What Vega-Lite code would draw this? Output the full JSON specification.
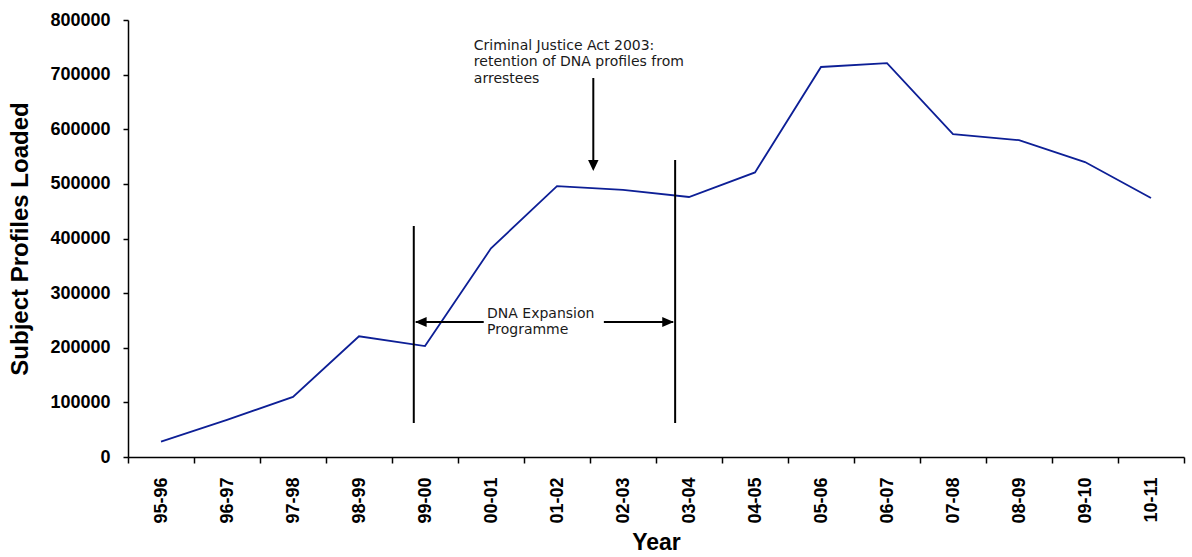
{
  "$schema": "https://vega.github.io/schema/vega-lite/v6.json",
  "width": 1056,
  "height": 437,
  "autosize": {"type": "none"},
  "padding": {"left": 128, "top": 20, "right": 8, "bottom": 100},
  "background": "white",
  "config": {"view": {"stroke": null}},
  "datasets": {
    "profiles": [
      {"year": "95-96", "profiles": 28000},
      {"year": "96-97", "profiles": 68000},
      {"year": "97-98", "profiles": 110000},
      {"year": "98-99", "profiles": 221000},
      {"year": "99-00", "profiles": 203000},
      {"year": "00-01", "profiles": 382000},
      {"year": "01-02", "profiles": 496000},
      {"year": "02-03", "profiles": 489000},
      {"year": "03-04", "profiles": 476000},
      {"year": "04-05", "profiles": 521000},
      {"year": "05-06", "profiles": 714000},
      {"year": "06-07", "profiles": 721000},
      {"year": "07-08", "profiles": 591000},
      {"year": "08-09", "profiles": 580000},
      {"year": "09-10", "profiles": 540000},
      {"year": "10-11", "profiles": 474000}
    ],
    "vlines": [
      {"at": 1999.33, "top": 422900, "bottom": 62200},
      {"at": 2003.29, "top": 543700, "bottom": 62200},
      {"at": 2002.05, "top": 693800, "bottom": 530000}
    ],
    "hlines": [
      {"from": 1999.36, "to": 2000.39, "level": 247100},
      {"from": 2002.21, "to": 2003.26, "level": 247100}
    ],
    "heads": [
      {"at": 2002.05, "level": 523600, "dir": "down"},
      {"at": 1999.35, "level": 247100, "dir": "left"},
      {"at": 2003.27, "level": 247100, "dir": "right"}
    ],
    "notes": [
      {"at": 2000.24, "level": 752400, "note": "Criminal Justice Act 2003:"},
      {"at": 2000.24, "level": 723100, "note": "retention of DNA profiles from"},
      {"at": 2000.24, "level": 692000, "note": "arrestees"},
      {"at": 2000.44, "level": 261800, "note": "DNA Expansion"},
      {"at": 2000.44, "level": 232500, "note": "Programme"}
    ]
  },
  "resolve": {"scale": {"x": "independent"}, "axis": {"y": "independent"}},
  "layer": [
    {
      "data": {"name": "profiles"},
      "mark": {"type": "line", "color": "#0d1f96", "strokeWidth": 1.8},
      "encoding": {
        "x": {
          "field": "year",
          "type": "ordinal",
          "sort": null,
          "bandPosition": 0.5,
          "scale": {"type": "band", "paddingInner": 0, "paddingOuter": 0},
          "axis": {
            "title": "Year",
            "tickBand": "extent",
            "labelAngle": -90,
            "labelAlign": "right",
            "labelBaseline": "middle",
            "labelPadding": 14,
            "tickSize": 6,
            "tickColor": "black",
            "tickWidth": 1.5,
            "domainColor": "black",
            "domainWidth": 1.5,
            "labelFont": "Liberation Sans",
            "labelFontSize": 18,
            "labelFontWeight": "bold",
            "labelColor": "black",
            "titleFont": "Liberation Sans",
            "titleFontSize": 23,
            "titleFontWeight": "bold",
            "titleColor": "black",
            "titlePadding": 8,
            "grid": false
          }
        },
        "y": {
          "field": "profiles",
          "type": "quantitative",
          "scale": {"domain": [0, 800000], "nice": false},
          "axis": {
            "title": "Subject Profiles Loaded",
            "values": [0, 100000, 200000, 300000, 400000, 500000, 600000, 700000, 800000],
            "format": "d",
            "tickSize": 5,
            "tickColor": "black",
            "tickWidth": 1.5,
            "domainColor": "black",
            "domainWidth": 1.5,
            "labelFont": "Liberation Sans",
            "labelFontSize": 18,
            "labelFontWeight": "bold",
            "labelColor": "black",
            "labelPadding": 13,
            "titleFont": "Liberation Sans",
            "titleFontSize": 24,
            "titleFontWeight": "bold",
            "titleColor": "black",
            "titlePadding": 17,
            "grid": false
          }
        }
      }
    },
    {
      "layer": [
        {
          "data": {"name": "vlines"},
          "mark": {"type": "rule", "color": "black", "strokeWidth": 2},
          "encoding": {
            "x": {"field": "at", "type": "quantitative", "scale": {"domain": [1995, 2011], "nice": false, "zero": false}, "axis": null},
            "y": {"field": "top", "type": "quantitative", "axis": null},
            "y2": {"field": "bottom"}
          }
        },
        {
          "data": {"name": "hlines"},
          "mark": {"type": "rule", "color": "black", "strokeWidth": 2},
          "encoding": {
            "x": {"field": "from", "type": "quantitative", "scale": {"domain": [1995, 2011], "nice": false, "zero": false}, "axis": null},
            "x2": {"field": "to"},
            "y": {"field": "level", "type": "quantitative", "axis": null}
          }
        },
        {
          "data": {"name": "heads"},
          "mark": {"type": "point", "filled": true, "color": "black", "opacity": 1, "strokeWidth": 0, "size": 121},
          "encoding": {
            "x": {"field": "at", "type": "quantitative", "scale": {"domain": [1995, 2011], "nice": false, "zero": false}, "axis": null},
            "y": {"field": "level", "type": "quantitative", "axis": null},
            "shape": {
              "field": "dir",
              "type": "nominal",
              "legend": null,
              "scale": {
                "domain": ["down", "left", "right"],
                "range": ["M0,0L-0.95,-2L0.95,-2Z", "M0,0L2.1,-0.9L2.1,0.9Z", "M0,0L-2.1,-0.9L-2.1,0.9Z"]
              }
            }
          }
        },
        {
          "data": {"name": "notes"},
          "mark": {"type": "text", "align": "left", "baseline": "middle", "font": "DejaVu Sans", "fontSize": 14, "color": "#1a1a1a"},
          "encoding": {
            "x": {"field": "at", "type": "quantitative", "scale": {"domain": [1995, 2011], "nice": false, "zero": false}, "axis": null},
            "y": {"field": "level", "type": "quantitative", "axis": null},
            "text": {"field": "note"}
          }
        }
      ]
    }
  ]
}
